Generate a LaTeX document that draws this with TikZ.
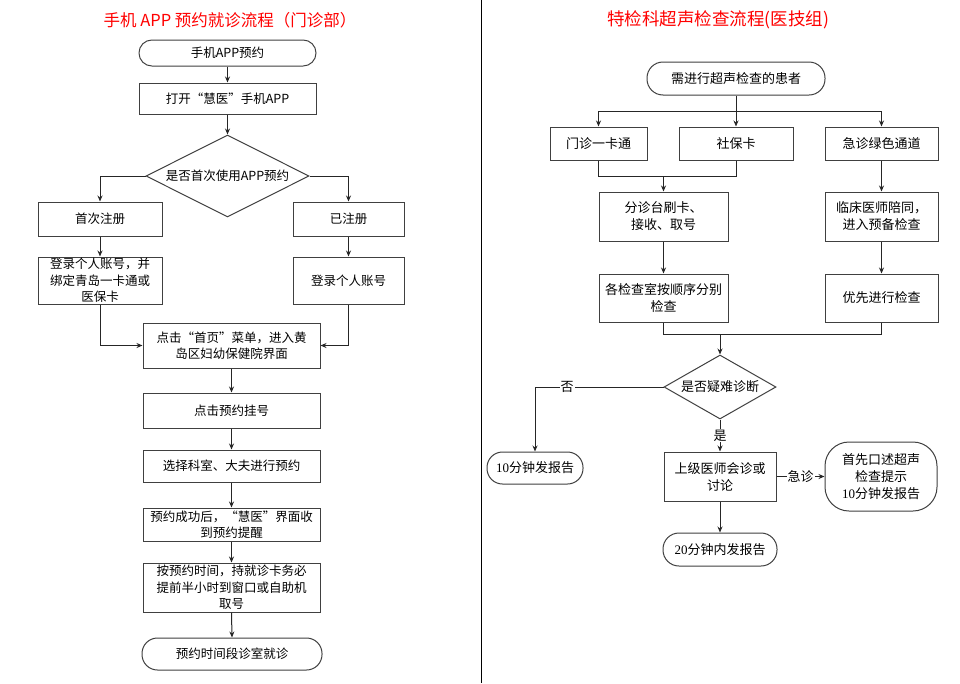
\documentclass[tikz,border=0pt]{standalone}
\usepackage{fontspec}
\setmainfont{Noto Sans CJK SC}
\newfontfamily\latserif{Liberation Serif}
\usetikzlibrary{shapes.geometric,arrows.meta}
\begin{document}
\begin{tikzpicture}[x=1pt,y=1pt,
  every node/.style={font=\fontsize{12.5}{16.5}\selectfont, inner sep=0pt, align=center},
  box/.style={draw=black!75, line width=1pt, rectangle, fill=white},
  term/.style={box, rounded corners=#1},
  term/.default=15.5pt,
  dec/.style={draw=black!75, line width=1pt, diamond, aspect=2, fill=white},
  conn/.style={draw=black!85, line width=1pt},
  arr/.style={conn, -{Stealth[length=6pt,width=5pt]}},
  lbl/.style={fill=white, inner sep=1pt, font=\fontsize{13}{16}\selectfont},
  ttl/.style={text=red, font=\fontsize{16.5}{18}\selectfont}
]
\useasboundingbox (0,0) rectangle (960,-683);
\fill[white] (0,0) rectangle (960,-683);
\draw[line width=1.4pt, black] (481.3,0) -- (481.3,-683);

% ---------------- left chart ----------------
\node[ttl] (tl) at (230,-20) {手机 APP 预约就诊流程（门诊部）};
\node[term=12.9pt, minimum width=177pt, minimum height=26pt] (s1) at (227.5,-53) {手机APP预约};
\node[box, minimum width=177pt, minimum height=31pt] (b1) at (227.5,-98.5) {打开“慧医”手机APP};
\node[dec, minimum width=163pt, minimum height=82pt] (d1) at (227.5,-176) {是否首次使用APP预约};
\node[box, minimum width=124pt, minimum height=34pt] (b2l) at (100,-219) {首次注册};
\node[box, minimum width=111pt, minimum height=34pt] (b2r) at (348.5,-219) {已注册};
\node[box, minimum width=124pt, minimum height=47pt] (b3l) at (100,-280.5) {登录个人账号，并\\绑定青岛一卡通或\\医保卡};
\node[box, minimum width=111pt, minimum height=47pt] (b3r) at (348.5,-280.5) {登录个人账号};
\node[box, minimum width=177pt, minimum height=45pt] (b4) at (231.5,-345.5) {点击“首页”菜单，进入黄\\岛区妇幼保健院界面};
\node[box, minimum width=177pt, minimum height=35pt] (b5) at (231.5,-410.5) {点击预约挂号};
\node[box, minimum width=177pt, minimum height=32pt] (b6) at (231.5,-466) {选择科室、大夫进行预约};
\node[box, minimum width=177pt, minimum height=33pt] (b7) at (231.5,-524.5) {预约成功后，“慧医”界面收\\到预约提醒};
\node[box, minimum width=177pt, minimum height=49pt] (b8) at (231.5,-587.5) {按预约时间，持就诊卡务必\\提前半小时到窗口或自助机\\取号};
\node[term, minimum width=180pt, minimum height=32pt] (e1) at (232,-654) {预约时间段诊室就诊};

\draw[arr] (s1.south) -- (b1.north);
\draw[arr] (b1.south) -- (d1.north);
\draw[arr] (d1.west) -| (b2l.north);
\draw[arr] (d1.east) -| (b2r.north);
\draw[arr] (b2l.south) -- (b3l.north);
\draw[arr] (b2r.south) -- (b3r.north);
\draw[arr] (b3l.south) |- (b4.west);
\draw[arr] (b3r.south) |- (b4.east);
\draw[arr] (b4.south) -- (b5.north);
\draw[arr] (b5.south) -- (b6.north);
\draw[arr] (b6.south) -- (b7.north);
\draw[arr] (b7.south) -- (b8.north);
\draw[arr] (b8.south) -- (e1.north);

% ---------------- right chart ----------------
\begin{scope}[every node/.style={font=\fontsize{13}{17}\selectfont, inner sep=0pt, align=center}]
\node[ttl, font=\fontsize{17.5}{19}\selectfont] (tr) at (718,-20) {特检科超声检查流程(医技组)};
\node[term=16pt, minimum width=178pt, minimum height=33pt] (s2) at (736,-78.5) {需进行超声检查的患者};
\node[box, minimum width=97pt, minimum height=33pt] (r1) at (598.5,-143.5) {门诊一卡通};
\node[box, minimum width=114pt, minimum height=33pt] (r2) at (736,-143.5) {社保卡};
\node[box, minimum width=113pt, minimum height=33pt] (r3) at (881.5,-143.5) {急诊绿色通道};
\node[box, minimum width=129pt, minimum height=49pt] (r4) at (663.5,-216.5) {分诊台刷卡、\\接收、取号};
\node[box, minimum width=113pt, minimum height=49pt] (r5) at (881.5,-216.5) {临床医师陪同，\\进入预备检查};
\node[box, minimum width=129pt, minimum height=48pt] (r6) at (663.5,-298) {各检查室按顺序分别\\检查};
\node[box, minimum width=113pt, minimum height=48pt] (r7) at (881.5,-298) {优先进行检查};
\node[dec, aspect=1.75, minimum width=112pt, minimum height=64pt] (d2) at (720,-387) {是否疑难诊断};
\node[term, minimum width=96pt, minimum height=32pt] (t1) at (535,-468) {{\latserif 10}分钟发报告};
\node[box, minimum width=112pt, minimum height=49pt] (r8) at (720,-476.5) {上级医师会诊或\\讨论};
\node[term=24pt, minimum width=112pt, minimum height=69pt] (t2) at (881,-476.5) {首先口述超声\\检查提示\\{\latserif 10}分钟发报告};
\node[term=16pt, minimum width=114pt, minimum height=33pt] (t3) at (720,-549.5) {{\latserif 20}分钟内发报告};

\coordinate (j1) at (736,-111);
\coordinate (j2) at (663.5,-176);
\coordinate (j3) at (720,-334);

\draw[arr] (s2.south) -- (r2.north);
\draw[arr] (j1) -| (r1.north);
\draw[arr] (j1) -| (r3.north);
\draw[conn] (r1.south) |- (j2);
\draw[conn] (r2.south) |- (j2);
\draw[arr] (j2) -- (r4.north);
\draw[arr] (r3.south) -- (r5.north);
\draw[arr] (r4.south) -- (r6.north);
\draw[arr] (r5.south) -- (r7.north);
\draw[conn] (r6.south) |- (j3);
\draw[conn] (r7.south) |- (j3);
\draw[arr] (j3) -- (d2.north);
\draw[arr] (d2.west) -| node[lbl, pos=0.375] (no) {否} (t1.north);
\draw[arr] (d2.south) -- node[lbl, midway] (yes) {是} (r8.north);
\draw[arr] (r8.east) -- node[lbl, midway] (em) {急诊} (t2.west);
\draw[arr] (r8.south) -- (t3.north);
\end{scope}
\end{tikzpicture}
\end{document}
